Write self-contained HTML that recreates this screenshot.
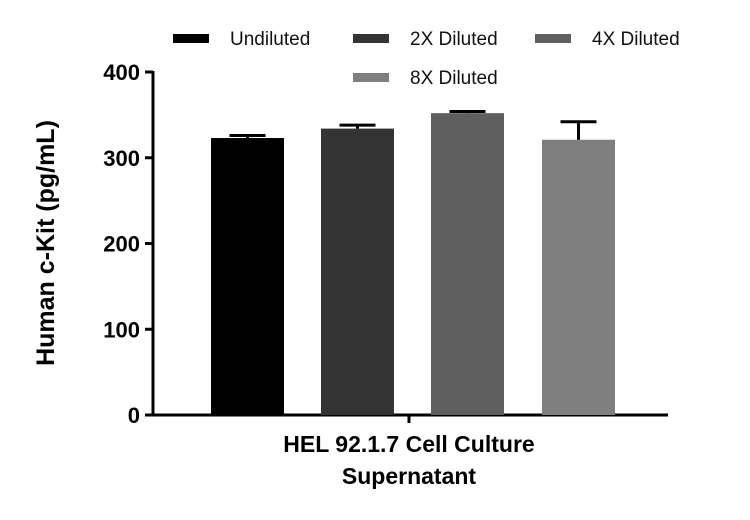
<!DOCTYPE html>
<html><head><meta charset="utf-8"><style>
body{margin:0;background:#fff;}
svg text{font-family:"Liberation Sans",sans-serif;}
</style></head><body>
<svg width="750" height="515">
<g id="legend"></g>
<g id="axes"></g>
<g id="bars"></g>
<text transform="translate(54,243) rotate(-90)" text-anchor="middle" font-size="25" font-weight="bold">Human c-Kit (pg/mL)</text>
<text x="409" y="452" text-anchor="middle" font-size="23" font-weight="bold">HEL 92.1.7 Cell Culture</text>
<text x="409" y="484" text-anchor="middle" font-size="23" font-weight="bold">Supernatant</text>
</svg>
<script>
const categories=["Undiluted","2X Diluted","4X Diluted","8X Diluted"];
const values=[323,334,352,321];
const errors=[3,4,2,21];
const colors=["#000000","#333333","#5f5f5f","#7f7f7f"];
const yTicks=[0,100,200,300,400];
const NS="http://www.w3.org/2000/svg";
const y0=415,yTop=72,yMax=400;
function ys(v){return y0-(v/yMax)*(y0-yTop);}
const barX=[211,321,431,542],barW=73;
function mk(t,a,p){const e=document.createElementNS(NS,t);for(const k in a)e.setAttribute(k,a[k]);p.appendChild(e);return e;}
const ax=document.getElementById('axes');
const yl=mk('line',{x1:153,y1:ys(yMax)-1,x2:153,y2:y0+1.5,stroke:'#000','stroke-width':3},ax);


const xl=mk('line',{x1:151.5,y1:y0,x2:668,y2:y0,stroke:'#000','stroke-width':3},ax);


const xt=mk('line',{x1:409,y1:y0,x2:409,y2:y0+8,stroke:'#000','stroke-width':3},ax);


yTicks.forEach(t=>{
  const l=mk('line',{x1:145,y1:ys(t),x2:153,y2:ys(t),stroke:'#000','stroke-width':3},ax);
  
  
  const tx=mk('text',{x:140,y:ys(t)+8,'text-anchor':'end','font-size':22,'font-weight':'bold'},ax);
  tx.textContent=t;
  
  
});
const bg=document.getElementById('bars');
categories.forEach((c,i)=>{
  const x=barX[i],top=ys(values[i]),et=ys(values[i]+errors[i]),cx=x+barW/2;
  const r=mk('rect',{x:x,y:top,width:barW,height:y0-top,fill:colors[i]},bg);
  
  
  const e1=mk('line',{x1:cx,y1:top,x2:cx,y2:et,stroke:'#000','stroke-width':3},bg);
  
  
  const e2=mk('line',{x1:cx-18,y1:et,x2:cx+18,y2:et,stroke:'#000','stroke-width':3},bg);
  
  
});
const lg=document.getElementById('legend');
const lpos=[[173,38],[353,38],[535,38],[353,77]];
categories.forEach((c,i)=>{
  const [x,y]=lpos[i];
  const s=mk('rect',{x:x,y:y-4,width:36,height:9,fill:colors[i]},lg);
  
  
  const t=mk('text',{x:x+57,y:y+7,'font-size':19,fill:'#111'},lg);
  t.textContent=c;
  
  
});
</script>
</body></html>
